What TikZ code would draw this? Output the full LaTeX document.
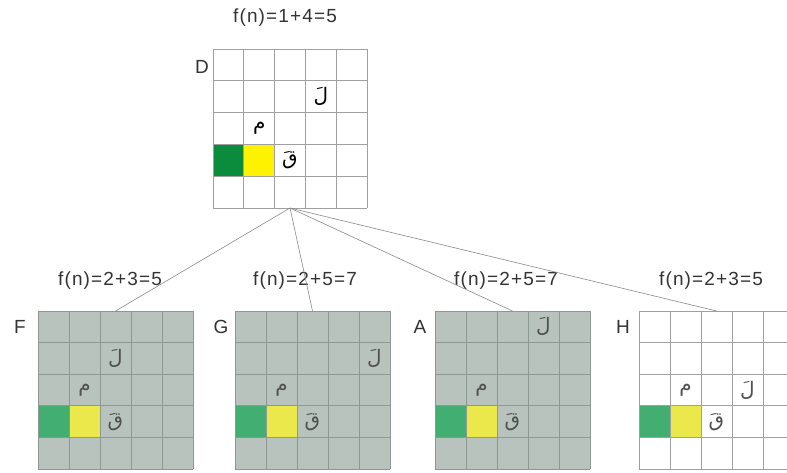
\documentclass[tikz,border=0pt]{standalone}
\usepackage{fontspec}
\setmainfont{Liberation Sans}
\newfontfamily\fvalfont[LetterSpace=6]{Liberation Sans}
\newfontfamily\arabicfont[Script=Arabic]{DejaVu Sans}
\TeXXeTstate=1
\definecolor{cellgrey}{HTML}{B8C3BD}
\definecolor{gridD}{HTML}{A0A0A0}
\definecolor{gridC}{HTML}{8C9892}
\definecolor{greenD}{HTML}{0A8C3C}
\definecolor{yellowD}{HTML}{FFF200}
\definecolor{greenC}{HTML}{42AE72}
\definecolor{yellowC}{HTML}{EBE84C}
\definecolor{linkgrey}{HTML}{8A8A8A}
\definecolor{textgrey}{HTML}{333333}
\definecolor{lettergrey}{HTML}{505050}
\tikzset{
  board/.style={inner sep=0pt, outer sep=0pt, anchor=north west},
  fval/.style={font=\fvalfont\fontsize{19}{19}\selectfont, text=textgrey, inner sep=0pt},
  tag/.style={font=\fontsize{19}{19}\selectfont, text=textgrey, inner sep=0pt},
  letter/.style={font=\arabicfont\fontsize{20}{20}\selectfont, inner sep=0pt},
  link/.style={draw=linkgrey, line width=0.6pt},
}
% one 5x5 board: #1 name, #2 left, #3 top, #4 cell width, #5 cell height,
% #6 background, #7 grid colour, #8 green, #9 yellow
\newcommand\drawboard[9]{%
  \begin{scope}[shift={(#2,#3)}, x=#4pt, y=-#5pt]
    \fill[#6] (0,0) rectangle (5,5);
    \fill[#8] (0,3) rectangle (1,4);
    \fill[#9] (1,3) rectangle (2,4);
    \foreach \k in {0,...,5} {
      \draw[#7, line width=0.7pt] (\k,0) -- (\k,5);
      \draw[#7, line width=0.7pt] (0,\k) -- (5,\k);
    }
    \node[board, minimum width=5*#4pt, minimum height=5*#5pt] (#1) at (0,0) {};
  \end{scope}}
% an Arabic letter in cell (column, row) of a board, counted from 1
\newcommand\putletter[8]{%
  \node[letter, text=#8] at ({#2+(#4-0.5)*#6},{#3+(#5-0.5)*#7}) {\beginR #1\endR};}
\begin{document}
\begin{tikzpicture}[x=1pt, y=-1pt]
  \clip (0,0) rectangle (787,473);
  \fill[white] (0,0) rectangle (787,473);

  % root state D
  \drawboard{gD}{213}{49}{30.8}{31.8}{white}{gridD}{greenD}{yellowD}
  \putletter{لَ}{213}{49}{4}{2}{30.8}{31.8}{black}
  \putletter{م}{213}{49}{2}{3}{30.8}{31.8}{black}
  \putletter{قَ}{213}{49}{3}{4}{30.8}{31.8}{black}
  \node[tag] (tD) at (202,67) {D};
  \node[fval] (fD) at (285,18) {f(n)=1+4=5};

  % successor states
  \drawboard{gF}{38}{311}{31}{31.6}{cellgrey}{gridC}{greenC}{yellowC}
  \putletter{لَ}{38}{311}{3}{2}{31}{31.6}{lettergrey}
  \putletter{م}{38}{311}{2}{3}{31}{31.6}{lettergrey}
  \putletter{قَ}{38}{311}{3}{4}{31}{31.6}{lettergrey}
  \node[tag] (tF) at (20,327) {F};
  \node[fval] (fF) at (110,281) {f(n)=2+3=5};

  \drawboard{gG}{235}{311}{31}{31.6}{cellgrey}{gridC}{greenC}{yellowC}
  \putletter{لَ}{235}{311}{5}{2}{31}{31.6}{lettergrey}
  \putletter{م}{235}{311}{2}{3}{31}{31.6}{lettergrey}
  \putletter{قَ}{235}{311}{3}{4}{31}{31.6}{lettergrey}
  \node[tag] (tG) at (221,327) {G};
  \node[fval] (fG) at (305,281) {f(n)=2+5=7};

  \drawboard{gA}{435}{311}{31}{31.6}{cellgrey}{gridC}{greenC}{yellowC}
  \putletter{لَ}{435}{311}{4}{1}{31}{31.6}{lettergrey}
  \putletter{م}{435}{311}{2}{3}{31}{31.6}{lettergrey}
  \putletter{قَ}{435}{311}{3}{4}{31}{31.6}{lettergrey}
  \node[tag] (tA) at (420,327) {A};
  \node[fval] (fA) at (506,281) {f(n)=2+5=7};

  \drawboard{gH}{639}{311}{31}{31.6}{white}{gridD}{greenC}{yellowC}
  \putletter{لَ}{639}{311}{4}{3}{31}{31.6}{lettergrey}
  \putletter{م}{639}{311}{2}{3}{31}{31.6}{lettergrey}
  \putletter{قَ}{639}{311}{3}{4}{31}{31.6}{lettergrey}
  \node[tag] (tH) at (623,327) {H};
  \node[fval] (fH) at (711,281) {f(n)=2+3=5};

  % tree edges
  \foreach \child in {gF,gG,gA,gH}
    \draw[link] (gD.south) -- (\child.north);
\end{tikzpicture}
\end{document}
